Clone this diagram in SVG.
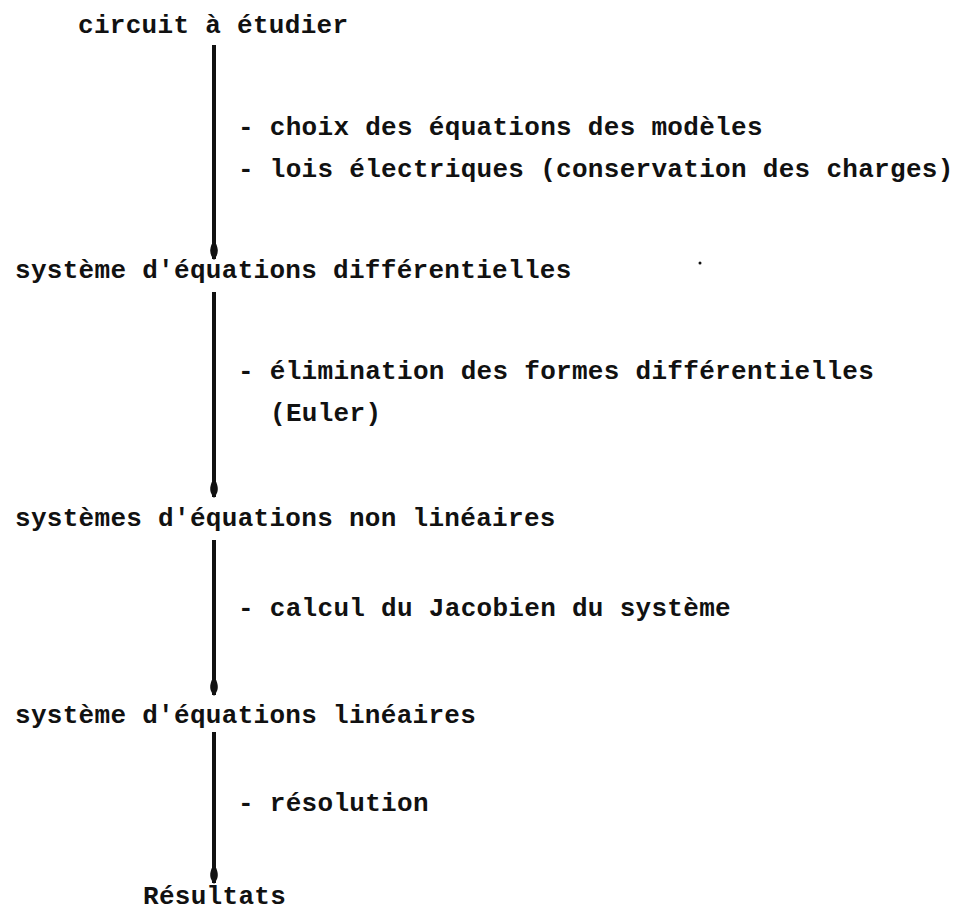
<svg xmlns="http://www.w3.org/2000/svg" width="968" height="912" viewBox="0 0 968 912">
<defs>
<style>
text{font-family:"Liberation Mono","DejaVu Sans Mono",monospace;font-size:26px;font-weight:bold;letter-spacing:0.3px;fill:#111}
.arr{stroke:#111;stroke-width:4;fill:none;marker-end:url(#tip)}
</style>
<marker id="tip" viewBox="0 0 16 10" refX="15" refY="5" markerWidth="16" markerHeight="10" markerUnits="userSpaceOnUse" orient="auto">
<path d="M0,2.8 C6,0.4 10,0.4 16,5 C10,9.6 6,9.6 0,7.2 Z" fill="#111"/>
</marker>
</defs>
<rect width="968" height="912" fill="#fff"/>
<g id="connectors">
<line class="arr" x1="214" y1="45" x2="214" y2="259"/>
<line class="arr" x1="214" y1="292" x2="214" y2="497"/>
<line class="arr" x1="214" y1="540" x2="214" y2="695"/>
<line class="arr" x1="214" y1="732" x2="214" y2="883"/>
</g>
<g id="n1"><text x="78" y="33">circuit à étudier</text></g>
<g id="l1"><text x="238" y="135">- choix des équations des modèles</text><text x="238" y="177">- lois électriques (conservation des charges)</text></g>
<g id="n2"><text x="15" y="278">système d'équations différentielles</text></g>
<g id="l2"><text x="238" y="379">- élimination des formes différentielles</text><text x="270" y="421">(Euler)</text></g>
<g id="n3"><text x="15" y="526">systèmes d'équations non linéaires</text></g>
<g id="l3"><text x="238" y="616">- calcul du Jacobien du système</text></g>
<g id="n4"><text x="15" y="723">système d'équations linéaires</text></g>
<g id="l4"><text x="238" y="811">- résolution</text></g>
<g id="n5"><text x="143" y="904">Résultats</text></g>
<circle cx="700" cy="263" r="1.5" fill="#111"/>
</svg>
